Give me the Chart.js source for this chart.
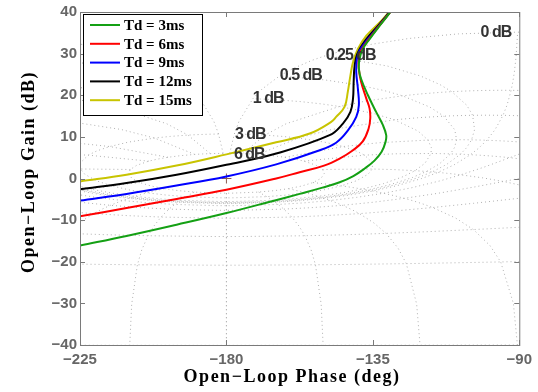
<!DOCTYPE html>
<html>
<head>
<meta charset="utf-8">
<style>
html, body { margin: 0; padding: 0; background: #fff; }
</style>
<script src="https://cdn.jsdelivr.net/npm/chart.js@4.4.1/dist/chart.umd.min.js"></script>
</head>
<body>
<canvas id="nichols" width="538" height="392"></canvas>
<script>
// open-loop phase (deg) / gain (dB) of each Td curve
const phaseTd3 = [-225, -210.7, -195.3, -180, -165.7, -157.5, -150.5, -145.2, -141, -137.5, -134.5, -132.3, -131.1, -130.9, -131.9, -134, -136.5, -138.6, -139.3, -139.1, -138.1, -136, -132.9, -129.4];
const gainTd3 = [-16.1, -13.8, -11.1, -8.3, -5.4, -3.7, -2.2, -0.9, 0.6, 2.4, 4.3, 6.4, 8.8, 10.4, 12.8, 16, 20, 23.9, 26.3, 28.7, 31.1, 33.5, 36.7, 40.2];

const phaseTd6 = [-225, -210.7, -195.3, -180, -164.7, -157.5, -150, -145.2, -141.1, -138.1, -136.3, -135.8, -136, -137, -138.6, -139.3, -139.3, -138.6, -136.4, -133.1, -129.4];
const gainTd6 = [-9.1, -7.1, -4.9, -2.7, 0, 1.5, 3.1, 4.8, 6.8, 8.9, 12, 14.4, 16.8, 19.2, 23.2, 26.3, 28.7, 30.7, 33.3, 36.6, 40.2];

const phaseTd9 = [-225, -210.7, -195.3, -180, -164.7, -152, -146.3, -142.6, -140.1, -139.3, -139.6, -140.1, -139.9, -139.1, -136.6, -133.2, -129.5];
const gainTd9 = [-5.3, -3.7, -1.7, 0.5, 3.4, 6.6, 8.6, 11.6, 14.8, 17.6, 21.6, 25.5, 28.7, 30.7, 33.4, 36.6, 40.2];

const phaseTd12 = [-225, -210.7, -195.3, -180, -164.7, -148.3, -144.2, -141.9, -141.1, -140.9, -140.6, -139.8, -137.2, -133.5, -129.6];
const gainTd12 = [-2.6, -1.1, 0.9, 3.3, 6, 10.4, 13.2, 16, 19.2, 23.2, 27.1, 29.9, 33.3, 36.6, 40.2];

const phaseTd15 = [-225, -210.7, -195.3, -180, -164.7, -154.4, -147.8, -146.3, -143.7, -142.7, -141.9, -141.1, -139.6, -137, -132.9, -129.8];
const gainTd15 = [-0.7, 0.9, 3.1, 5.8, 8.7, 10.8, 13.6, 14.8, 17.2, 20.8, 24.7, 27.9, 31.1, 34.3, 37.5, 40.2];

const seriesLabels = ['Td = 3ms', 'Td = 6ms', 'Td = 9ms', 'Td = 12ms', 'Td = 15ms'];
const seriesColors = ['#14a014', '#ff0000', '#0000ff', '#000000', '#c8c400'];

// Nichols grid levels (closed-loop gain / phase)
const gridGainDb = [6, 3, 1, 0.5, 0.25, 0, -1, -3, -6, -12, -20, -40];
const gridSweepDeg = [1, 2, 3, 4, 5, 7.5, 10, 15, 20, 25, 30, 40, 50, 60, 75, 90, 105, 120, 135, 150, 175, 180];
const gridPhaseDeg = [1, 5, 10, 20, 30, 50, 90, 120, 150, 180];
const gridSweepDb = [6, 3, 2, 1, .75, .5, .4, .3, .25, .2, .15, .1, .05, 0, -.05, -.1, -.15, -.2, -.25, -.3, -.4, -.5, -.75, -1, -2, -3, -4, -5, -6, -9, -12, -16, -20, -30, -40, -50, -60];
const gridLabelText = ['6 dB', '3 dB', '1 dB', '0.5 dB', '0.25 dB', '0 dB'];
const gridLabelPhase = [-177.7, -177.4, -171.9, -163.6, -149.5, -101.9];
const gridLabelGain = [5.7, 10.5, 19.1, 24.8, 29.6, 35.1];

const phaseTicks = [-225, -180, -135, -90];
const gainTicks = [-40, -30, -20, -10, 0, 10, 20, 30, 40];

// closed-loop point -> open-loop (phase, gain)
function openLoop(mDb, pDeg) {
    const m = Math.pow(10, mDb / 20);
    const p = pDeg * Math.PI / 180;
    const zr = m * Math.cos(p), zi = m * Math.sin(p);
    const dr = 1 - zr, di = -zi;
    const den = dr * dr + di * di;
    const hr = (zr * dr + zi * di) / den;
    const hi = (zi * dr - zr * di) / den;
    let ph = Math.atan2(hi, hr);
    ph = ((ph + 2 * Math.PI) % (2 * Math.PI)) - 2 * Math.PI;
    return { x: ph * 180 / Math.PI, y: 20 * Math.log10(Math.hypot(hr, hi)) };
}

const gridStyle = {
    showLine: true, pointRadius: 0, borderColor: '#b0b0b0', borderWidth: 1,
    borderDash: [1, 3], tension: 0, order: 2
};
const gridSets = [];
const sweepFull = gridSweepDeg.concat(gridSweepDeg.slice(0, -1).reverse().map(v => 360 - v));
gridGainDb.forEach(g => {
    gridSets.push(Object.assign({ data: sweepFull.map(p => openLoop(g, p)) }, gridStyle));
});
gridPhaseDeg.forEach(p => {
    const pts = gridSweepDb.map(g => openLoop(g, p));
    gridSets.push(Object.assign({ data: pts }, gridStyle));
    gridSets.push(Object.assign({ data: pts.map(q => ({ x: -360 - q.x, y: q.y })) }, gridStyle));
});

const phases = [phaseTd3, phaseTd6, phaseTd9, phaseTd12, phaseTd15];
const gains = [gainTd3, gainTd6, gainTd9, gainTd12, gainTd15];
const curveSets = seriesLabels.map((label, i) => ({
    label: label,
    data: phases[i].map((x, k) => ({ x: x, y: gains[i][k] })),
    showLine: true, pointRadius: 0, borderColor: seriesColors[i],
    borderWidth: 2, tension: 0.4, order: 0
}));

const markerSet = {
    data: [{ x: -180, y: 0 }], pointStyle: 'cross', pointRadius: 5,
    borderColor: '#8a5a50', borderWidth: 1, order: 1
};

const minus = v => String(v).replace('-', '\u2212');

const frame = {
    id: 'frame',
    afterDatasetsDraw(chart) {
        const ctx = chart.ctx;
        const a = chart.chartArea;
        const xs = chart.scales.x, ys = chart.scales.y;
        ctx.save();

        // contour labels
        ctx.fillStyle = '#333';
        ctx.font = 'bold 16px "Liberation Sans"';
        ctx.letterSpacing = '-1px';
        ctx.textBaseline = 'middle';
        ctx.textAlign = 'left';
        gridLabelText.forEach((t, i) => {
            ctx.fillText(t, xs.getPixelForValue(gridLabelPhase[i]), ys.getPixelForValue(gridLabelGain[i]));
        });
        ctx.letterSpacing = '0px';

        // box and inward ticks
        ctx.strokeStyle = '#7a7a7a';
        ctx.lineWidth = 1;
        ctx.strokeRect(a.left + 0.5, a.top + 0.5, a.right - a.left, a.bottom - a.top);
        ctx.beginPath();
        phaseTicks.forEach(v => {
            const x = Math.round(xs.getPixelForValue(v)) + 0.5;
            ctx.moveTo(x, a.bottom); ctx.lineTo(x, a.bottom - 5);
            ctx.moveTo(x, a.top); ctx.lineTo(x, a.top + 5);
        });
        gainTicks.forEach(v => {
            const y = Math.round(ys.getPixelForValue(v)) + 0.5;
            ctx.moveTo(a.left, y); ctx.lineTo(a.left + 5, y);
            ctx.moveTo(a.right, y); ctx.lineTo(a.right - 5, y);
        });
        ctx.stroke();

        // legend
        const lx = 83.5, ly = 14.5, lw = 119, lh = 101;
        ctx.fillStyle = '#fff';
        ctx.fillRect(lx, ly, lw, lh);
        ctx.strokeStyle = '#000';
        ctx.strokeRect(lx, ly, lw, lh);
        ctx.font = 'bold 15px "Liberation Serif"';
        ctx.fillStyle = '#000';
        seriesLabels.forEach((t, i) => {
            const y = 25 + i * 18.8;
            ctx.strokeStyle = seriesColors[i];
            ctx.lineWidth = 2;
            ctx.beginPath();
            ctx.moveTo(90, y); ctx.lineTo(120, y);
            ctx.stroke();
            ctx.fillText(t, 124, y + 1);
        });

        // axis titles
        ctx.font = 'bold 18px "Liberation Serif"';
        ctx.letterSpacing = '1.5px';
        ctx.textAlign = 'center';
        ctx.fillText('Open\u2212Loop Phase (deg)', 292, 377);
        ctx.translate(29, 172);
        ctx.rotate(-Math.PI / 2);
        ctx.fillText('Open\u2212Loop Gain (dB)', 0, 0);
        ctx.restore();
    }
};

const tickFont = { family: 'Liberation Sans', weight: 'bold', size: 15 };

new Chart(document.getElementById('nichols'), {
    type: 'scatter',
    data: { datasets: curveSets.concat([markerSet], gridSets) },
    options: {
        responsive: false,
        animation: false,
        devicePixelRatio: 1,
        layout: { padding: { left: 0, right: 18, top: 9, bottom: 0 } },
        plugins: { legend: { display: false }, tooltip: { enabled: false } },
        scales: {
            x: {
                type: 'linear', min: -225, max: -90,
                afterBuildTicks: s => { s.ticks = phaseTicks.map(v => ({ value: v })); },
                afterFit: s => { s.height = 47; },
                grid: { display: false, drawTicks: false },
                border: { display: false },
                ticks: { color: '#666', font: tickFont, padding: 6, callback: minus, maxRotation: 0 }
            },
            y: {
                type: 'linear', min: -40, max: 40,
                afterBuildTicks: s => { s.ticks = gainTicks.map(v => ({ value: v })); },
                afterFit: s => { s.width = 80; },
                grid: { display: false, drawTicks: false },
                border: { display: false },
                ticks: { color: '#666', font: tickFont, padding: 3, callback: minus }
            }
        }
    },
    plugins: [frame]
});
</script>
</body>
</html>
